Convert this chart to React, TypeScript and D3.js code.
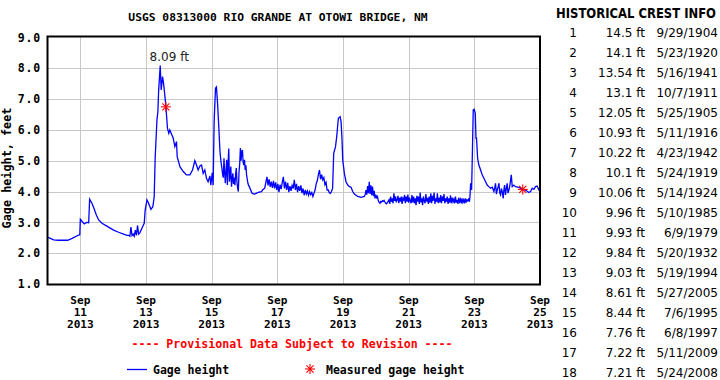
import React from "react";
import * as d3 from "d3";

const title = "USGS 08313000 RIO GRANDE AT OTOWI BRIDGE, NM";
const yAxisTitle = "Gage height, feet";
const yTicks = [1, 2, 3, 4, 5, 6, 7, 8, 9];
const xTickDays = [11, 13, 15, 17, 19, 21, 23, 25];
const peakLabel = "8.09 ft";

// Sparse readings: hours since 2013-09-10 00:00 and gage height (ft)
const gageHours = [
  0, 4.5, 8, 14.7, 18, 22.8, 23.6, 24.0, 25.5, 26.9, 28.5, 30.1, 30.8, 32.5, 34, 35.7, 37.4, 39.8, 43.4, 48.3,
  52.0, 55.6, 58.1, 59.3, 60.2, 61.0, 61.8, 62.6, 63.4, 64.2, 65.0, 65.8, 66.6, 67.5, 69.0, 70.7, 71.4, 72.7,
  73.9, 75.6, 77.0, 78.0, 78.7, 80.0, 80.7, 81.2, 82.4, 83.1, 84.1, 84.8, 85.6, 86.3, 86.8, 87.7, 88.7,
  89.4, 91.9, 93.1, 94.3, 94.8, 96.8, 99.2, 101.6, 104.1, 106.0, 107.7, 108.9, 110.1, 111.4, 112.6, 113.8,
  115.0, 116.2, 117.4, 118.7, 119.4, 120.4, 121.1, 121.8, 122.8, 123.5, 124.3, 125.2, 126.0,
  149.6, 151.5, 154.0, 156.4, 157.2,
  209.2, 210.5, 211.4, 212.6, 213.9, 214.6, 215.3, 215.8, 217.0, 218.2, 219.5, 220.7, 221.9, 223.1, 224.3,
  226.8, 229.2, 231.6,
  308.8, 309.3, 310.0, 310.5, 311.2, 311.9, 312.7, 313.2, 313.6, 314.4, 315.3, 316.6, 317.8, 319.0, 320.2,
  321.4, 322.6, 323.9, 325.1, 326.3, 326.9, 327.5, 328.1, 328.7, 329.4, 330.0, 330.6, 331.2, 331.8, 332.4,
  333.1, 333.6, 334.1, 334.8, 335.4, 336.0, 336.6, 337.3, 338.0, 339.0, 339.7, 340.9, 342.1, 344.6, 347.0,
  349.4, 351.9, 353.1, 354.3, 355.5, 356.7, 357.9, 359.2, 360.0,
];
const gageFeet = [
  2.52, 2.43, 2.42, 2.42, 2.48, 2.59, 2.6, 3.1, 3.02, 2.95, 3.0, 2.99, 3.75, 3.62, 3.45, 3.24, 3.08, 2.97, 2.88, 2.75,
  2.68, 2.62, 2.58, 2.58, 2.55, 2.85, 2.57, 2.62, 2.55, 2.75, 2.58, 2.9, 2.62, 2.66, 2.81, 2.97, 3.4, 3.73,
  3.62, 3.42, 3.51, 3.83, 5.08, 6.32, 6.6, 7.24, 8.09, 7.3, 7.73, 7.52, 7.19, 6.87, 6.6, 6.05, 5.89,
  6.0, 5.73, 5.46, 5.62, 5.13, 4.81, 4.65, 4.54, 4.54, 4.7, 5.0, 4.86, 4.7, 4.83, 4.86, 4.59,
  4.7, 4.43, 4.32, 4.51, 4.21, 4.61, 4.21, 6.27, 7.35, 7.39, 6.87, 6.11, 5.35,
  3.94, 3.92, 3.97, 4.0, 4.05,
  5.24, 5.45, 5.78, 6.38, 6.43, 6.27, 5.68, 5.03, 4.59, 4.32, 4.21, 4.16, 4.14, 4.0, 3.92,
  3.84, 3.81, 3.84,
  3.84, 4.27, 4.05, 5.08, 6.65, 6.67, 6.54, 5.73, 5.73, 5.08, 4.86, 4.7, 4.54, 4.43, 4.32,
  4.21, 4.16, 4.11, 4.14, 4.0, 4.12, 4.27, 3.92, 4.05, 4.15, 4.27, 3.95, 3.89, 4.1, 4.0,
  3.78, 4.05, 4.21, 3.89, 4.1, 4.27, 3.95, 4.05, 4.21, 4.54, 4.16, 4.21, 4.16, 4.14, 4.07,
  4.05, 3.97, 4.0, 4.11, 4.07, 4.16, 4.18, 4.05, 4.0,
];

// Regularly logged noisy stretches: start hour, logging step (h), readings
const burstStarts = [126.5, 158.0, 232.2, 249.6];
const burstSteps = [0.5, 0.8, 0.6, 0.6];
const burstSep15 = [
  5.1, 4.9, 4.75, 4.55, 4.45, 5.08, 4.6, 4.27, 4.7, 5.03, 4.21, 4.9, 5.4, 4.32, 4.5, 4.81, 4.16, 4.4, 4.59, 4.25,
  4.45, 4.21, 4.55, 4.76, 4.3, 4.1, 4.0, 4.65, 4.9, 5.41, 5.0, 5.3, 5.35, 4.95, 4.86, 5.03, 4.7, 4.85, 4.55, 4.4,
  4.27, 4.2, 4.16,
];
const burstSep17 = [
  4.08, 4.11, 4.3, 4.48, 4.2, 4.4, 4.15, 4.32, 4.12, 4.35, 4.1, 4.3, 4.05, 4.25, 3.98, 4.22, 4.08, 4.3, 4.48, 4.1,
  4.32, 4.05, 4.28, 3.98, 4.18, 4.02, 4.2, 4.1, 4.38, 4.05, 4.25, 3.98, 4.18, 4.02, 4.2, 3.95, 4.1, 3.88, 4.05, 3.92,
  4.02, 3.88, 4.0, 3.9, 3.97, 3.84, 3.95, 4.05, 4.25, 4.35, 4.55, 4.7, 4.4, 4.55, 4.38, 4.45, 4.22, 4.3, 4.05, 4.05,
  3.96, 3.94, 4.0, 4.1,
];
const burstSep19 = [
  3.9, 4.05, 3.9, 4.18, 3.95, 4.32, 3.92, 4.2, 3.88, 4.16, 3.85, 4.02, 3.78, 3.9, 3.8, 3.84, 3.7, 3.65, 3.62, 3.68,
  3.66, 3.7, 3.68, 3.71, 3.66, 3.62, 3.6, 3.64, 3.68,
];
const burstSep20 = [
  3.73, 3.6, 3.84, 3.67, 3.78, 3.62, 3.94, 3.7, 3.84, 3.65,
  3.73, 3.86, 3.62, 3.8, 3.67, 3.84, 3.6, 3.78, 3.73, 3.89,
  3.62, 3.84, 3.67, 3.9, 3.64, 3.8, 3.7, 3.62, 3.89, 3.65,
  3.84, 3.62, 3.78, 3.56, 3.86, 3.67, 3.84, 3.6, 3.97, 3.65,
  3.78, 3.56, 3.84, 3.7, 3.62, 3.92, 3.67, 3.8, 3.6, 3.84,
  3.64, 3.94, 3.62, 3.86, 3.7, 3.97, 3.6, 3.78, 3.67, 3.94,
  3.62, 3.8, 3.65, 3.89, 3.62, 3.84, 3.7, 3.92, 3.62, 3.78,
  3.67, 3.84, 3.6, 3.78, 3.64, 3.88, 3.62, 3.8, 3.67, 3.75,
  3.62, 3.84, 3.64, 3.73, 3.6, 3.8, 3.67, 3.75, 3.62, 3.78,
  3.65, 3.73, 3.62, 3.78, 3.64, 3.73, 3.7, 3.75, 3.67,
];
const burstFeet = [burstSep15, burstSep17, burstSep19, burstSep20];

const measuredHours = [86.5, 347.4];
const measuredFeet = [6.75, 4.07];

const crestRank = [1, 2, 3, 4, 5, 6, 7, 8, 9, 10, 11, 12, 13, 14, 15, 16, 17, 18];
const crestFeet = ["14.5", "14.1", "13.54", "13.1", "12.05", "10.93", "10.22", "10.1", "10.06", "9.96", "9.93", "9.84", "9.03", "8.61", "8.44", "7.76", "7.22", "7.21"];
const crestDate = ["9/29/1904", "5/23/1920", "5/16/1941", "10/7/1911", "5/25/1905", "5/11/1916", "4/23/1942", "5/24/1919", "5/14/1924", "5/10/1985", "6/9/1979", "5/20/1932", "5/19/1994", "5/27/2005", "7/6/1995", "6/8/1997", "5/11/2009", "5/24/2008"];

const START = new Date(2013, 8, 10);
const toDate = (h: number) => new Date(START.getTime() + h * 3600 * 1000);

const MONO = "'DejaVu Sans Mono', monospace";
const SANS = "'DejaVu Sans', Verdana, sans-serif";

function Star({ x, y, r = 5 }: { x: number; y: number; r?: number }) {
  const angles = [0, 45, 90, 135];
  return (
    <g stroke="#ff0000" strokeWidth={1.1}>
      {angles.map((a) => {
        const rad = (a * Math.PI) / 180;
        const dx = Math.cos(rad) * r;
        const dy = Math.sin(rad) * r;
        return <line key={a} x1={x - dx} y1={y - dy} x2={x + dx} y2={y + dy} />;
      })}
    </g>
  );
}

export default function App() {
  const W = 720, H = 380;
  const left = 47.5, right = 540, top = 36.5, bottom = 284.5;
  const x = d3.scaleTime().domain([START, new Date(2013, 8, 25)]).range([left, right]);
  const y = d3.scaleLinear().domain([1, 9]).range([284, 37.5]);

  const all: [number, number][] = gageHours.map((h, i) => [h, gageFeet[i]]);
  burstFeet.forEach((vals, k) => {
    vals.forEach((v, j) => all.push([burstStarts[k] + j * burstSteps[k], v]));
  });
  all.sort((a, b) => a[0] - b[0]);
  const pts = all.map((d) => [toDate(d[0]), d[1]] as [Date, number]);
  const line = d3.line<[Date, number]>().x((d) => x(d[0])).y((d) => y(d[1]));

  const peakIdx = d3.maxIndex(gageFeet);
  const peakX = x(toDate(gageHours[peakIdx]));
  const peakY = y(gageFeet[peakIdx]);

  const headerScale = 0.862;

  return (
    <svg width={W} height={H} style={{ position: "absolute", left: 0, top: 0, background: "#fff" }}>
      <rect x={0} y={0} width={W} height={H} fill="#fff" />
      <text x={278} y={21} textAnchor="middle" fontFamily={MONO} fontWeight="bold" fontSize={11.3} fill="#000">
        {title}
      </text>

      {/* grid */}
      <g stroke="#c8c8c8" strokeWidth={1}>
        {yTicks.slice(1, -1).map((v) => (
          <line key={v} x1={left} x2={right} y1={Math.round(y(v)) + 0.5} y2={Math.round(y(v)) + 0.5} />
        ))}
        {xTickDays.slice(0, -1).map((d) => {
          const xx = Math.round(x(new Date(2013, 8, d))) + 0.5;
          return <line key={d} x1={xx} x2={xx} y1={top} y2={bottom} />;
        })}
      </g>

      {/* data */}
      <path d={line(pts) || ""} fill="none" stroke="#0000ff" strokeWidth={1.3} strokeLinejoin="miter" />
      {measuredHours.map((h, i) => (
        <Star key={i} x={x(toDate(h))} y={y(measuredFeet[i])} />
      ))}
      <text x={peakX + 9} y={peakY - 4.5} textAnchor="middle" fontFamily={SANS} fontSize={12} fill="#222">
        {peakLabel}
      </text>

      {/* frame */}
      <rect x={left} y={top} width={right - left} height={bottom - top} fill="none" stroke="#000" strokeWidth={2} />

      {/* y ticks */}
      {yTicks.map((v) => (
        <text key={v} x={41} y={y(v)} dy="0.36em" textAnchor="end" fontFamily={MONO} fontWeight="bold" fontSize={11.5} letterSpacing={0.8} fill="#000">
          {v.toFixed(1)}
        </text>
      ))}
      <text transform="translate(11,168) rotate(-90)" textAnchor="middle" fontFamily={MONO} fontWeight="bold" fontSize={11.8} fill="#000">
        {yAxisTitle}
      </text>

      {/* x ticks */}
      {xTickDays.map((d) => {
        const xx = x(new Date(2013, 8, d));
        return (
          <text key={d} textAnchor="middle" fontFamily={MONO} fontWeight="bold" fontSize={11.1} fill="#000">
            <tspan x={xx} y={304}>Sep</tspan>
            <tspan x={xx} y={316}>{d}</tspan>
            <tspan x={xx} y={328}>2013</tspan>
          </text>
        );
      })}

      <text x={292} y={348} textAnchor="middle" fontFamily={MONO} fontWeight="bold" fontSize={11.6} fill="#ff0000">
        ---- Provisional Data Subject to Revision ----
      </text>

      {/* legend */}
      <line x1={127} x2={147} y1={369.5} y2={369.5} stroke="#0000ff" strokeWidth={1.3} />
      <text x={153} y={369.5} dy="0.36em" fontFamily={MONO} fontWeight="bold" fontSize={11.5} fill="#000">Gage height</text>
      <Star x={310} y={369} />
      <text x={326} y={369.5} dy="0.36em" fontFamily={MONO} fontWeight="bold" fontSize={11.5} fill="#000">Measured gage height</text>

      {/* crest table */}
      <g transform={`translate(556,17.5) scale(${headerScale},1)`}>
        <text x={0} y={0} fontFamily={SANS} fontWeight="bold" fontSize={13.5} textLength={160 / headerScale} lengthAdjust="spacingAndGlyphs" fill="#000">
          HISTORICAL CREST INFO
        </text>
      </g>
      {crestRank.map((r, i) => {
        const yy = 36.5 + i * 20;
        return (
          <g key={r} fontFamily={SANS} fontSize={12} fill="#000">
            <text x={577} y={yy} textAnchor="end">{r}</text>
            <text x={645} y={yy} textAnchor="end">{crestFeet[i]} ft</text>
            <text x={718} y={yy} textAnchor="end">{crestDate[i]}</text>
          </g>
        );
      })}
    </svg>
  );
}
